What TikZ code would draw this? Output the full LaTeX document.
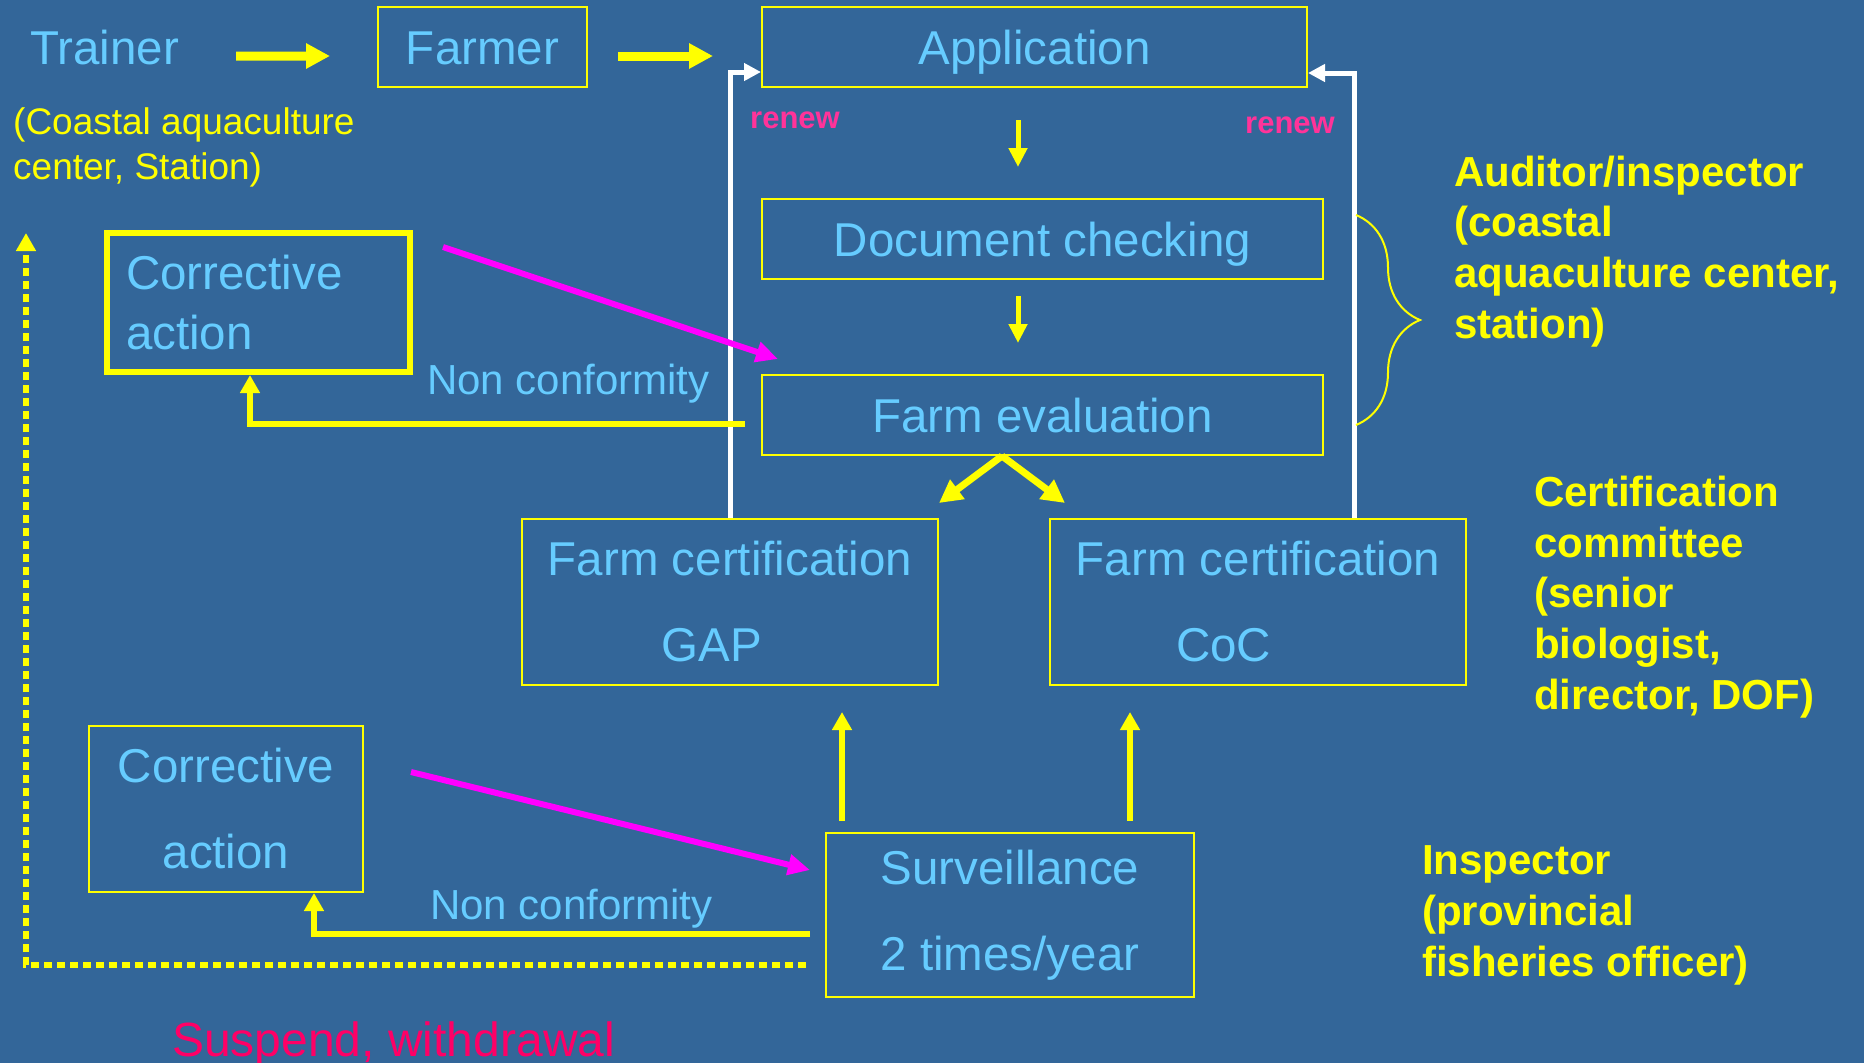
\documentclass[tikz,border=0pt]{standalone}
\usepackage{fontspec}
\setmainfont{Liberation Sans}
\usetikzlibrary{arrows.meta,decorations.pathreplacing}
\definecolor{slide}{RGB}{51,102,153}
\definecolor{skytext}{RGB}{102,204,255}
\definecolor{signyellow}{RGB}{255,255,0}
\definecolor{magline}{RGB}{255,0,255}
\definecolor{renewpink}{RGB}{255,51,153}
\definecolor{suspendred}{RGB}{255,0,102}

\begin{document}
\begin{tikzpicture}[x=1pt, y=-1pt,
  box/.style={draw=signyellow, line width=2pt, text=skytext, inner sep=0pt},
  onebox/.style={box, font=\fontsize{47.5}{57}\selectfont, text height=34pt, text depth=0pt},
  twobox/.style={box, font=\fontsize{47.5}{86}\selectfont, align=center},
  plain/.style={text=skytext, inner sep=0pt, font=\fontsize{47.5}{57}\selectfont},
  rolelabel/.style={text=signyellow, inner sep=0pt, align=left, anchor=base west, font=\bfseries\fontsize{42}{50.6}\selectfont},
  renewlabel/.style={text=renewpink, inner sep=0pt, anchor=base west, font=\bfseries\fontsize{31}{37}\selectfont},
  nclabel/.style={text=skytext, inner sep=0pt, anchor=base west, font=\fontsize{42}{50}\selectfont},
  bigarrow/.style={signyellow, line width=9pt, -{Triangle[length=24pt,width=24pt]}},
  downarrow/.style={signyellow, line width=5pt, -{Triangle[length=19pt,width=18pt]}},
  forkarrow/.style={signyellow, line width=7pt, -{Triangle[length=23pt,width=23pt]}},
  uparrow/.style={signyellow, line width=6pt, -{Triangle[length=18pt,width=19pt]}},
  ncarrow/.style={signyellow, line width=6pt, -{Triangle[length=18pt,width=19pt]}},
  magarrow/.style={magline, line width=6pt, -{Triangle[length=22pt,width=20pt]}},
  renewline/.style={white, line width=5pt, -{Triangle[length=17pt,width=17pt]}},
  dotline/.style={signyellow, line width=5.5pt, dash pattern=on 8pt off 5pt, -{Triangle[length=18pt,width=19pt]}}]

\useasboundingbox (0,0) rectangle (1864,1063);
\fill[slide] (0,0) rectangle (1864,1063);

\node[plain, anchor=base west] (trainer) at (30,64) {Trainer};
\node[onebox, minimum width=209pt, minimum height=80pt] (farmer) at (482.5,47) {Farmer};
\node[onebox, minimum width=545pt, minimum height=80pt] (app) at (1034.5,47) {Application};
\node[text=signyellow, inner sep=0pt, anchor=base west, align=left, font=\fontsize{37}{44.6}\selectfont] (coastal) at (13,179) {(Coastal aquaculture\\center, Station)};

\node[onebox, minimum width=561pt, minimum height=80pt] (doc) at (1042.5,239) {Document checking};
\node[onebox, minimum width=561pt, minimum height=80pt] (eval) at (1042.5,415) {Farm evaluation};
\node[twobox, minimum width=416pt, minimum height=166pt] (gap) at (730,602) {Farm certification\\GAP\hspace*{36pt}};
\node[twobox, minimum width=416pt, minimum height=166pt] (coc) at (1258,602) {Farm certification\\CoC\hspace*{69pt}};
\node[twobox, minimum width=368pt, minimum height=164pt] (surv) at (1010,915) {Surveillance\\2 times/year};

\node[draw=signyellow, line width=6pt, text=skytext, align=left, text width=265pt, inner xsep=19pt, inner ysep=0pt, minimum height=139pt, font=\fontsize{47.5}{60}\selectfont] (corrA) at (258.5,302.5) {Corrective\\action};
\node[twobox, minimum width=274pt, minimum height=166pt] (corrB) at (226,809) {Corrective\\action};

\node[renewlabel] (renewL) at (750,128) {renew};
\node[renewlabel] (renewR) at (1245,133) {renew};
\node[nclabel] (ncA) at (427,394) {Non conformity};
\node[nclabel] (ncB) at (430,919) {Non conformity};
\node[text=suspendred, inner sep=0pt, anchor=base west, font=\fontsize{48}{58}\selectfont] (suspend) at (172,1056) {Suspend, withdrawal};

\node[rolelabel] (auditor) at (1454,338) {Auditor/inspector\\(coastal\\aquaculture center,\\station)};
\node[rolelabel] (committee) at (1534,709) {Certification\\committee\\(senior\\biologist,\\director, DOF)};
\node[rolelabel] (inspector) at (1422,976) {Inspector\\(provincial\\fisheries officer)};

% renew loops
\draw[renewline] (gap.north) |- ([yshift=-25pt]app.west);
\draw[renewline] ([xshift=96pt]coc.north) |- ([yshift=-26pt]app.east);

\draw[bigarrow, shorten <=57pt, shorten >=47pt] ([yshift=-9pt]trainer.east) -- ([yshift=-9pt]farmer.west);
\draw[bigarrow, shorten <=30pt, shorten >=48pt] ([yshift=-9pt]farmer.east) -- ([yshift=-9pt]app.west);

\draw[downarrow, shorten <=32pt, shorten >=31pt] ([xshift=-16.5pt]app.south) -- ([xshift=-24.5pt]doc.north);
\draw[downarrow, shorten <=16pt, shorten >=31pt] ([xshift=-24.5pt]doc.south) -- ([xshift=-24.5pt]eval.north);

\draw[forkarrow] ([xshift=-40.5pt]eval.south) -- ([yshift=15pt]gap.north east);
\draw[forkarrow] ([xshift=-40.5pt]eval.south) -- ([xshift=16pt,yshift=15pt]coc.north west);

\draw[uparrow, shorten <=11pt, shorten >=26pt] ([xshift=-168pt]surv.north) -- ([xshift=-168pt]surv.north |- gap.south);
\draw[uparrow, shorten <=11pt, shorten >=26pt] ([xshift=120pt]surv.north) -- ([xshift=120pt]surv.north |- coc.south);

% non conformity
\draw[ncarrow] ([xshift=-16pt,yshift=-9pt]eval.west) -| ([xshift=-8.5pt]corrA.south);
\draw[ncarrow] ([xshift=-15pt,yshift=-19pt]surv.west) -| ([xshift=88pt]corrB.south);

\draw[magarrow] ([xshift=30pt,yshift=-17pt]corrA.north east) -- ([xshift=17pt,yshift=15pt]eval.north west);
\draw[magarrow] ([xshift=47pt,yshift=-47pt]corrB.north east) -- ([xshift=-15pt,yshift=45pt]surv.west);

% suspend, withdrawal
\coordinate (backup) at (26,233);
\draw[dotline] ([xshift=-19pt,yshift=-50pt]surv.west) -| (backup);

\draw[signyellow, line width=2pt, decorate, decoration={brace, amplitude=64pt}] ([xshift=32pt,yshift=-17pt]doc.north east) -- ([xshift=32pt,yshift=31pt]eval.south east);

\end{tikzpicture}
\end{document}
